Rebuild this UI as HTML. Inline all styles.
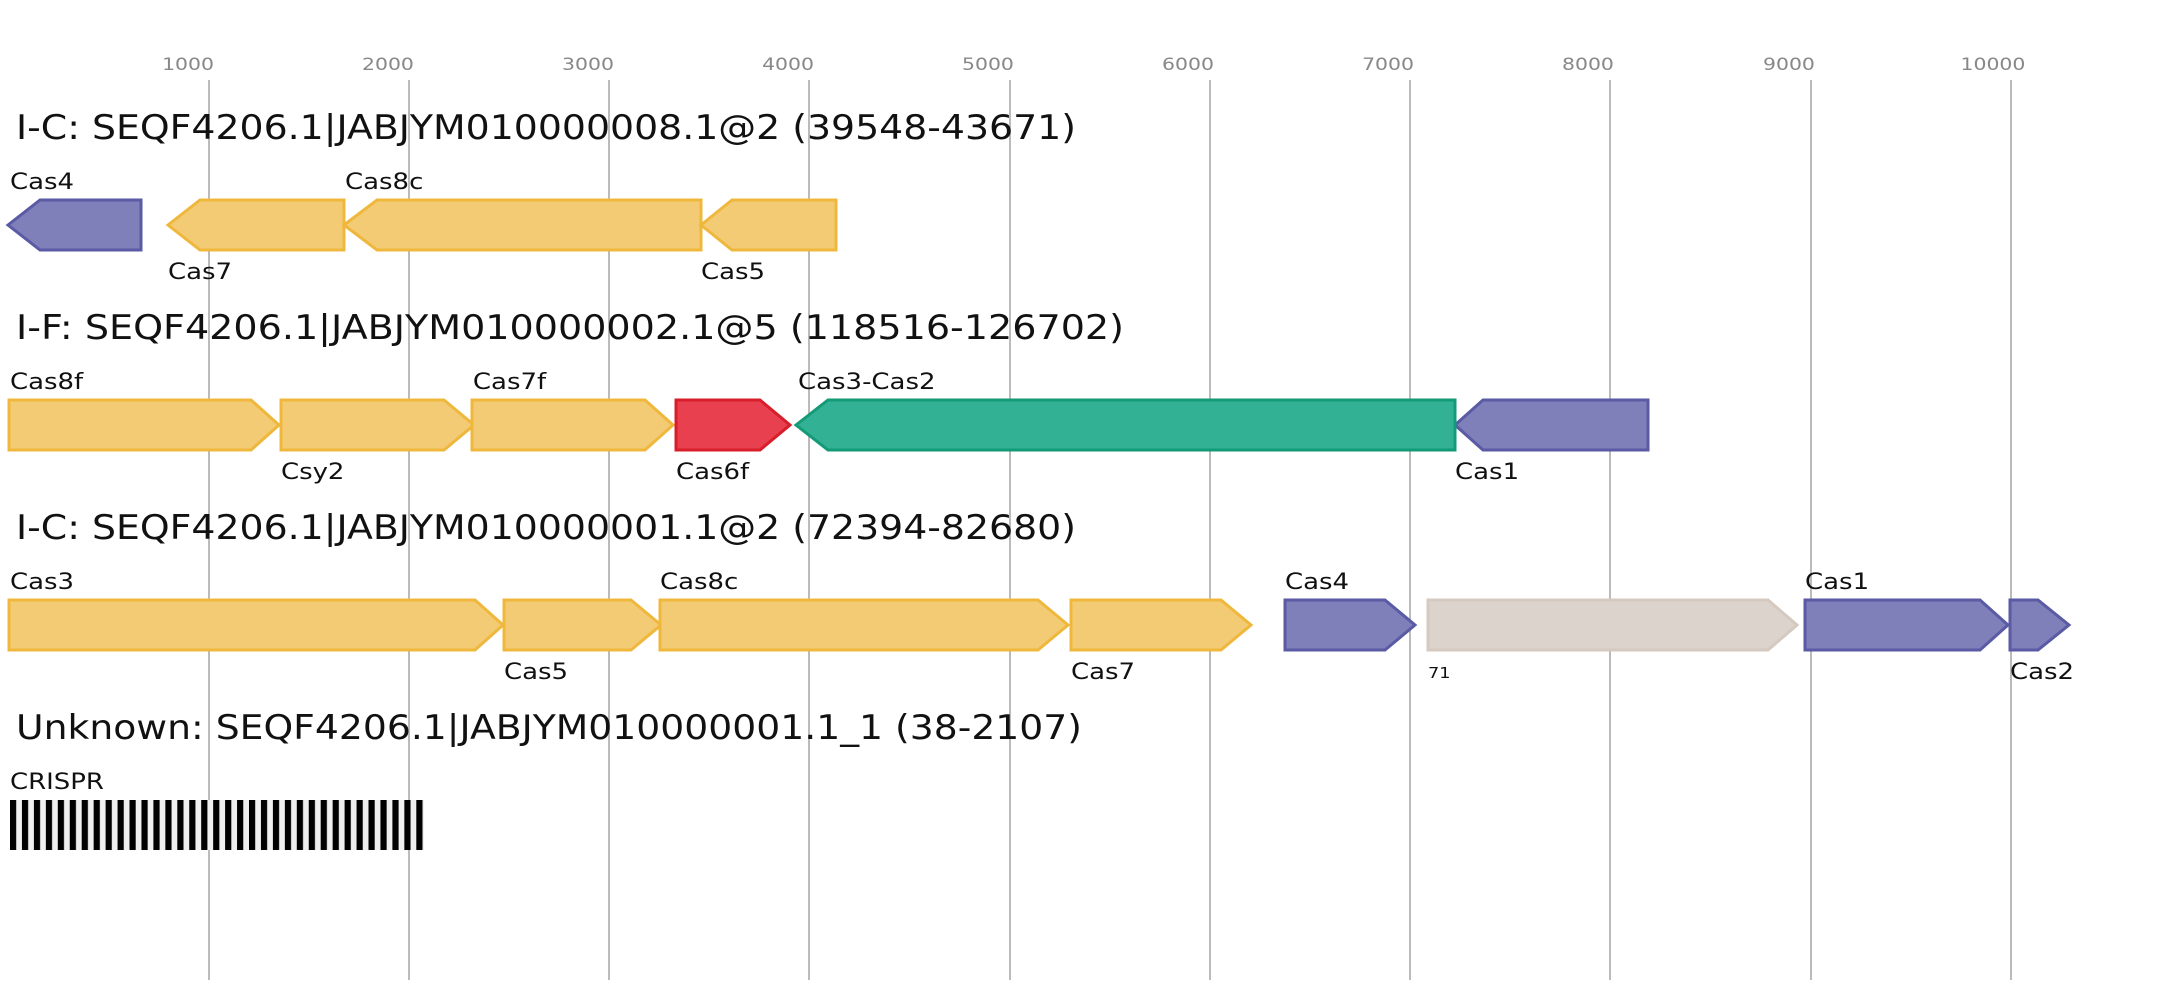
<!DOCTYPE html>
<html><head><meta charset="utf-8"><style>body{margin:0;background:#fff}svg{display:block}</style></head><body>
<svg width="2157" height="1000" xmlns="http://www.w3.org/2000/svg" font-family="DejaVu Sans, Liberation Sans, sans-serif">
<defs><pattern id="st" x="10" y="0" width="11.95" height="50" patternUnits="userSpaceOnUse"><rect width="6.2" height="50" fill="#000"/></pattern></defs>
<g stroke="#bbb" stroke-width="2">
<line x1="209" y1="80" x2="209" y2="980"/><line x1="409" y1="80" x2="409" y2="980"/><line x1="609" y1="80" x2="609" y2="980"/><line x1="809" y1="80" x2="809" y2="980"/><line x1="1010" y1="80" x2="1010" y2="980"/><line x1="1210" y1="80" x2="1210" y2="980"/><line x1="1410" y1="80" x2="1410" y2="980"/><line x1="1610" y1="80" x2="1610" y2="980"/><line x1="1811" y1="80" x2="1811" y2="980"/><line x1="2011" y1="80" x2="2011" y2="980"/>
</g>
<g fill="#888" font-size="17" text-anchor="middle" transform="scale(1.2,1)">
<text x="156.7" y="70">1000</text><text x="323.3" y="70">2000</text><text x="490" y="70">3000</text><text x="656.7" y="70">4000</text><text x="823.3" y="70">5000</text><text x="990" y="70">6000</text><text x="1156.7" y="70">7000</text><text x="1323.3" y="70">8000</text><text x="1490.8" y="70">9000</text><text x="1660.8" y="70">10000</text>
</g>
<g font-size="34" fill="#111">
<text x="16" y="139" textLength="1060" lengthAdjust="spacingAndGlyphs">I-C: SEQF4206.1|JABJYM010000008.1@2 (39548-43671)</text>
<text x="16" y="339" textLength="1108" lengthAdjust="spacingAndGlyphs">I-F: SEQF4206.1|JABJYM010000002.1@5 (118516-126702)</text>
<text x="16" y="539" textLength="1060" lengthAdjust="spacingAndGlyphs">I-C: SEQF4206.1|JABJYM010000001.1@2 (72394-82680)</text>
<text x="16" y="739" textLength="1066" lengthAdjust="spacingAndGlyphs">Unknown: SEQF4206.1|JABJYM010000001.1_1 (38-2107)</text>
</g>
<g stroke-width="3">
<g fill="#f2cb74" stroke="#efb83c">
<polygon points="168,225 200,200 344,200 344,250 200,250"/>
<polygon points="344,225 377,200 701,200 701,250 377,250"/>
<polygon points="701,225 732,200 836,200 836,250 732,250"/>
<polygon points="9,400 251,400 279,425 251,450 9,450"/>
<polygon points="281,400 444,400 474,425 444,450 281,450"/>
<polygon points="472,400 645,400 673,425 645,450 472,450"/>
<polygon points="9,600 475,600 503,625 475,650 9,650"/>
<polygon points="504,600 631,600 661,625 631,650 504,650"/>
<polygon points="660,600 1038,600 1068,625 1038,650 660,650"/>
<polygon points="1071,600 1221,600 1251,625 1221,650 1071,650"/>
</g>
<g fill="#7f7fb9" stroke="#5a5aa5">
<polygon points="8,225 40,200 141,200 141,250 40,250"/>
<polygon points="1455,425 1483,400 1648,400 1648,450 1483,450"/>
<polygon points="1285,600 1385,600 1415,625 1385,650 1285,650"/>
<polygon points="1805,600 1980,600 2008,625 1980,650 1805,650"/>
<polygon points="2010,600 2038,600 2069,625 2038,650 2010,650"/>
</g>
<polygon fill="#e8404f" stroke="#d81e2a" points="676,400 760,400 790,425 760,450 676,450"/>
<polygon fill="#33b194" stroke="#139a76" points="796,425 828,400 1455,400 1455,450 828,450"/>
<polygon fill="#dcd3cc" stroke="#d5c9c0" points="1428,600 1768,600 1797,625 1768,650 1428,650"/>
</g>
<g font-size="22" fill="#111" transform="scale(1.18,1)">
<text x="8.5" y="189">Cas4</text><text x="292.4" y="189">Cas8c</text>
<text x="142.4" y="279">Cas7</text><text x="594.1" y="279">Cas5</text>
<text x="8.5" y="389">Cas8f</text><text x="400.8" y="389">Cas7f</text><text x="676.3" y="389">Cas3-Cas2</text>
<text x="238.1" y="479">Csy2</text><text x="572.9" y="479">Cas6f</text><text x="1233.1" y="479">Cas1</text>
<text x="8.5" y="589">Cas3</text><text x="559.3" y="589">Cas8c</text><text x="1089" y="589">Cas4</text><text x="1529.7" y="589">Cas1</text>
<text x="427.1" y="679">Cas5</text><text x="907.6" y="679">Cas7</text><text x="1703.4" y="679">Cas2</text>
<text x="1210.2" y="678" font-size="15">71</text>
<text x="8.5" y="789">CRISPR</text>
</g>
<rect x="10" y="800" width="414" height="50" fill="#efefef"/>
<rect x="10" y="800" width="414" height="50" fill="url(#st)"/>
</svg>
</body></html>
